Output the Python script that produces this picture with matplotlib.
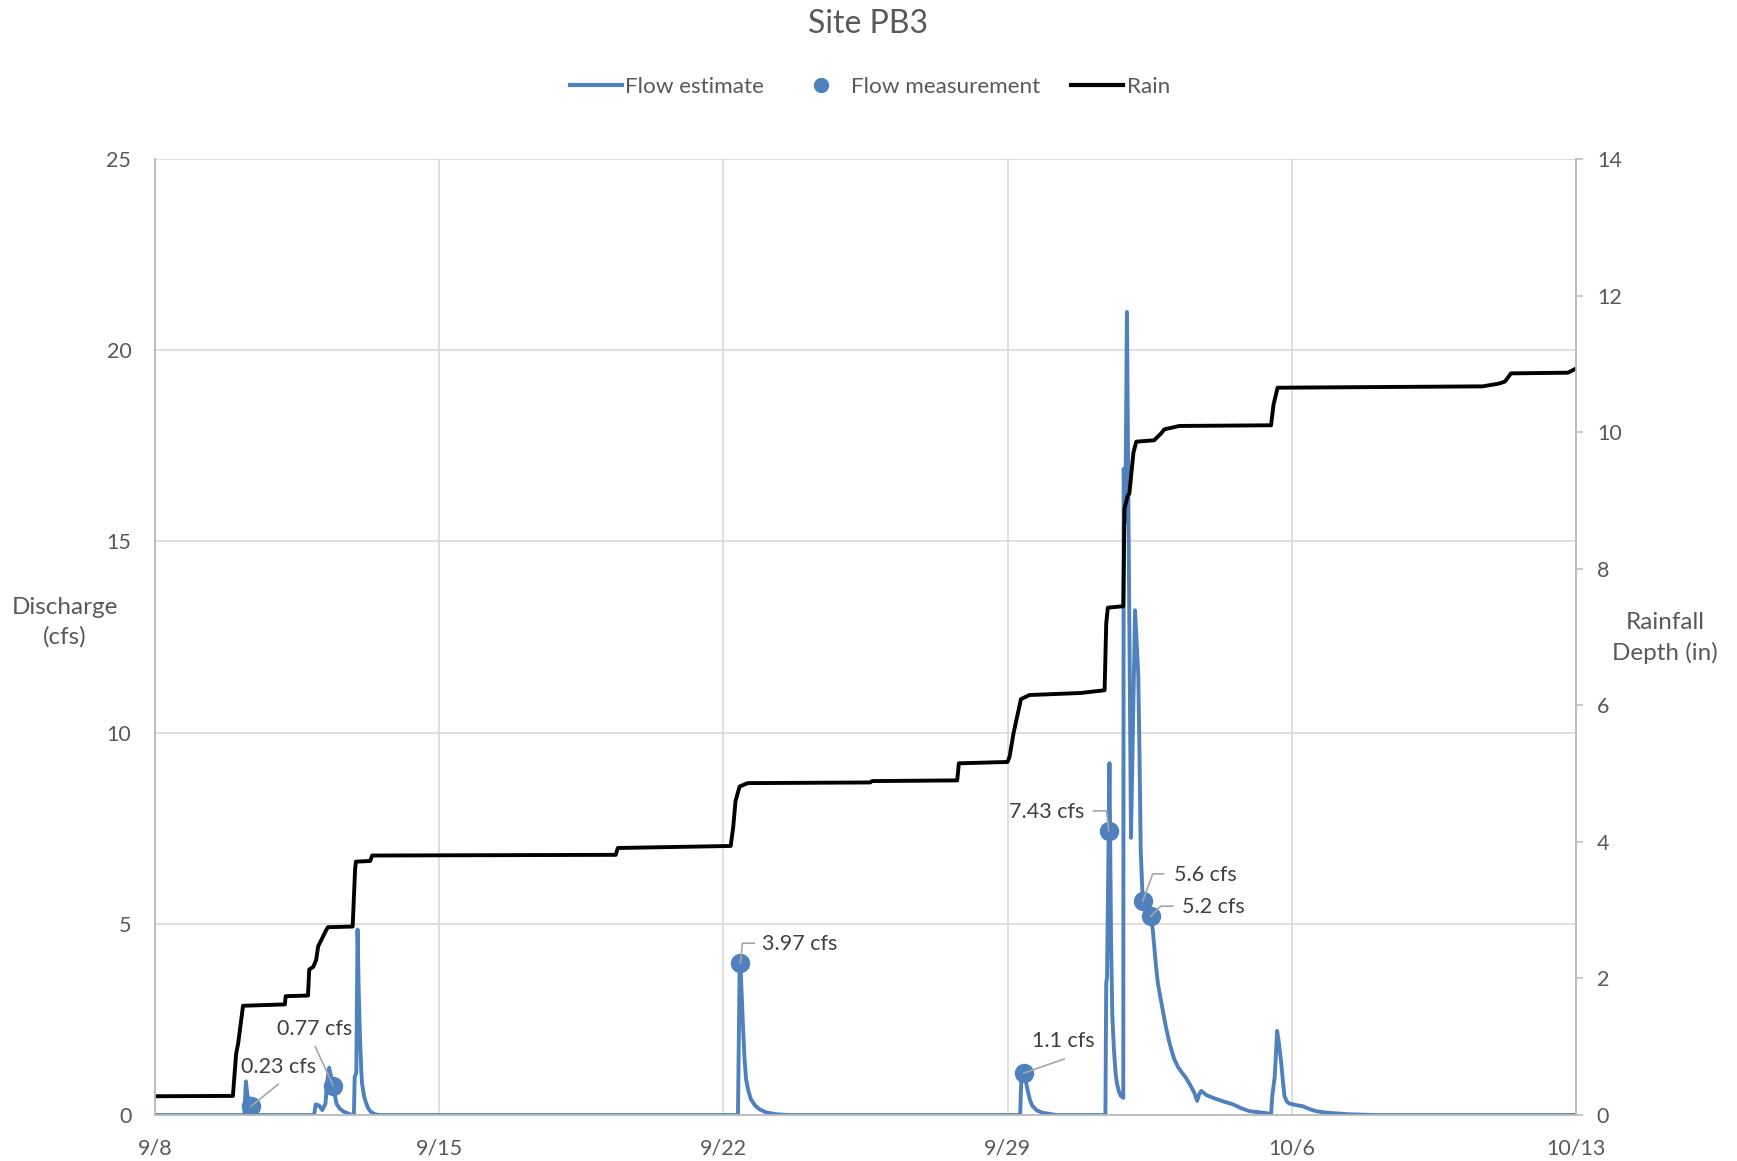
import matplotlib
matplotlib.use("Agg")
import matplotlib.pyplot as plt
import numpy as np
from matplotlib.lines import Line2D
from matplotlib.transforms import IdentityTransform

plt.rcParams['font.family'] = ['Lato', 'DejaVu Sans']

# days since 9/8
flow_day = [0.0, 2.20, 2.24, 2.28, 2.33, 2.37, 2.45, 2.55,
            3.92, 3.96, 4.04, 4.12, 4.20, 4.24, 4.29, 4.39, 4.47, 4.55, 4.63, 4.80,
            4.90, 4.92, 4.96, 4.99, 5.02, 5.05, 5.08, 5.10, 5.15, 5.19, 5.25, 5.31,
            5.40, 5.50,
            14.36, 14.40, 14.42, 14.45, 14.48, 14.52, 14.56, 14.62, 14.68, 14.78,
            14.89, 15.05, 15.30, 15.60,
            21.31, 21.34, 21.41, 21.45, 21.49, 21.55, 21.61, 21.72, 21.86, 22.20,
            23.41, 23.43, 23.45, 23.49, 23.51, 23.52, 23.55, 23.58, 23.62, 23.66,
            23.69, 23.74, 23.79, 23.85,
            23.86, 23.90, 23.94, 24.04, 24.14, 24.22, 24.25, 24.28, 24.31, 24.33,
            24.45, 24.53, 24.58, 24.62, 24.66, 24.70, 24.76, 24.82, 24.90, 24.98,
            25.05, 25.11, 25.20, 25.30, 25.39, 25.50, 25.60, 25.67, 25.72, 25.77,
            25.90, 26.06, 26.30, 26.55, 26.75, 26.96, 27.20, 27.37, 27.49,
            27.52, 27.58, 27.64, 27.68, 27.74, 27.78, 27.82, 27.88, 27.94, 28.10,
            28.27, 28.45, 28.60, 28.80, 29.00, 29.40, 30.00, 35.00]
flow_cfs = [0, 0, 0.88, 0.50, 0.42, 0.23, 0.05, 0,
            0, 0.28, 0.25, 0.13, 0.30, 0.85, 1.24, 0.77, 0.30, 0.17, 0.10, 0.02,
            0, 1.0, 1.1, 4.85, 3.2, 2.06, 1.2, 0.83, 0.5, 0.35, 0.18, 0.09,
            0.03, 0,
            0, 3.8, 3.97, 3.2, 2.41, 1.5, 0.93, 0.62, 0.41, 0.25,
            0.15, 0.07, 0.02, 0,
            0, 1.0, 1.1, 0.88, 0.67, 0.40, 0.24, 0.12, 0.06, 0,
            0, 3.46, 3.6, 7.43, 9.2, 8.0, 4.5, 2.6, 1.72, 1.1,
            0.85, 0.62, 0.50, 0.45,
            16.9, 15.5, 21.0, 7.25, 13.2, 11.5, 9.4, 6.9, 6.1, 5.6,
            5.4, 5.2, 4.8, 4.33, 3.85, 3.46, 3.1, 2.76, 2.30, 1.92,
            1.65, 1.45, 1.25, 1.10, 0.98, 0.78, 0.58, 0.37, 0.55, 0.63,
            0.52, 0.45, 0.36, 0.28, 0.18, 0.10, 0.07, 0.05, 0.02,
            0.5, 1.0, 2.2, 1.9, 1.37, 0.9, 0.5, 0.35, 0.3, 0.26,
            0.23, 0.15, 0.10, 0.07, 0.05, 0.02, 0, 0]

rain_day = [0.0, 1.92, 2.00, 2.05, 2.17, 3.20, 3.22, 3.77, 3.80, 3.90, 3.97, 4.02,
            4.22, 4.26, 4.87, 4.93, 4.95, 5.30, 5.35, 11.35, 11.40, 14.18, 14.24,
            14.30, 14.40, 14.60, 17.62, 17.66, 19.76, 19.80, 21.00, 21.05, 21.15,
            21.33, 21.54, 22.80, 23.39, 23.43, 23.47, 23.85, 23.88, 23.96, 24.00,
            24.10, 24.17, 24.61, 24.78, 24.86, 25.23, 27.49, 27.55, 27.65, 32.70,
            33.10, 33.25, 33.40, 34.80, 35.00]
rain_in = [0.275, 0.28, 0.90, 1.05, 1.60, 1.62, 1.74, 1.75, 2.13, 2.17, 2.27, 2.47,
           2.71, 2.75, 2.76, 3.60, 3.71, 3.72, 3.80, 3.81, 3.91, 3.94, 4.20,
           4.60, 4.81, 4.86, 4.87, 4.89, 4.90, 5.15, 5.17, 5.25, 5.60,
           6.09, 6.15, 6.18, 6.22, 7.20, 7.43, 7.45, 8.88, 9.07, 9.10,
           9.70, 9.86, 9.88, 9.98, 10.04, 10.09, 10.10, 10.40, 10.65, 10.67,
           10.71, 10.74, 10.86, 10.87, 10.93]

meas_day = [2.37, 4.39, 14.42, 21.41, 23.49, 24.33, 24.53]
meas_cfs = [0.23, 0.77, 3.97, 1.1, 7.43, 5.6, 5.2]
meas_text = ["0.23 cfs", "0.77 cfs", "3.97 cfs", "1.1 cfs", "7.43 cfs", "5.6 cfs", "5.2 cfs"]

x_ticks = [0, 7, 14, 21, 28, 35]
x_labels = ["9/8", "9/15", "9/22", "9/29", "10/6", "10/13"]

BLUE = '#4f81bd'
GRAY_TXT = '#595959'
GRID = '#d9d9d9'
FS = 15.5

fig = plt.figure(figsize=(17.37, 11.61), dpi=100)
ax = fig.add_axes([0.0892, 0.0396, 0.8181, 0.8235])
ax2 = ax.twinx()

ax.plot(flow_day, flow_cfs, color=BLUE, lw=2.8, zorder=3)
ax.plot(meas_day, meas_cfs, ls='none', marker='o', ms=13, color=BLUE, zorder=4)
ax2.plot(rain_day, rain_in, color='black', lw=2.8)

ax.set_xlim(0, 35)
ax.set_ylim(0, 25)
ax2.set_ylim(0, 14)
ax.set_xticks(x_ticks)
ax.set_xticklabels(x_labels)
ax.set_yticks(np.arange(0, 26, 5))
ax2.set_yticks(np.arange(0, 15, 2))

ax.grid(True, color=GRID, lw=1.2, zorder=0)
ax.set_axisbelow(True)
for a in (ax, ax2):
    for s in a.spines.values():
        s.set_color('#bfbfbf')
        s.set_linewidth(1.2)
    a.spines['top'].set_visible(False)
ax.tick_params(axis='y', length=0, pad=17, labelsize=FS, labelcolor=GRAY_TXT)
ax.tick_params(axis='x', length=0, pad=17, labelsize=FS, labelcolor=GRAY_TXT)
ax2.tick_params(axis='y', length=5, width=1.2, color='#bfbfbf', pad=10,
                labelsize=FS, labelcolor=GRAY_TXT)

fig.text(65 / 1737, 1 - 622 / 1161, "Discharge\n(cfs)", ha='center', va='center',
         fontsize=17.5, color=GRAY_TXT, linespacing=1.45)
fig.text(1665 / 1737, 1 - 638 / 1161, "Rainfall\nDepth (in)", ha='center', va='center',
         fontsize=17.5, color=GRAY_TXT, linespacing=1.45)
fig.text(0.5, 1 - 24 / 1161, "Site PB3", ha='center', va='center', fontsize=23,
         color=GRAY_TXT)

handles = [Line2D([], [], color=BLUE, lw=3),
           Line2D([], [], ls='none', marker='o', ms=10, color=BLUE),
           Line2D([], [], color='black', lw=3)]
fig.legend(handles, ["Flow estimate", "Flow measurement", "Rain"], loc='center',
           bbox_to_anchor=(0.5008, 1 - 87 / 1161), ncol=3, frameon=False,
           fontsize=16.2, handlelength=2.3, handletextpad=0.15, columnspacing=1.4,
           labelcolor=GRAY_TXT)

# label layout: leader path and text position in pixels from the marker (y down)
leaders = [[(0, 0), (27, -22)],
           [(0, 0), (-18, -39)],
           [(0, 0), (2, -20), (14, -20)],
           [(0, 0), (40, -14)],
           [(0, 0), (-2, -20), (-15, -20)],
           [(0, 0), (10, -27), (21, -27)],
           [(0, 0), (10, -10), (22, -10)]]
text_pos = [((27, -39), 'center'), ((-19, -57), 'center'), ((22, -19), 'left'),
            ((39, -32), 'center'), ((-24, -19), 'right'), ((31, -26), 'left'),
            ((31, -9), 'left')]

for d, v, txt, path, (off, ha) in zip(meas_day, meas_cfs, meas_text, leaders, text_pos):
    px, py = ax.transData.transform((d, v))
    xs = [px + p[0] for p in path]
    ys = [py - p[1] for p in path]
    fig.add_artist(Line2D(xs, ys, color='#a6a6a6', lw=1.2, transform=IdentityTransform(),
                          zorder=10))
    ax.annotate(txt, xy=(d, v), xytext=(off[0], -off[1]), textcoords='offset pixels',
                ha=ha, va='center', fontsize=FS, color='#404040', zorder=11)

fig.savefig('out.png', dpi=100)
